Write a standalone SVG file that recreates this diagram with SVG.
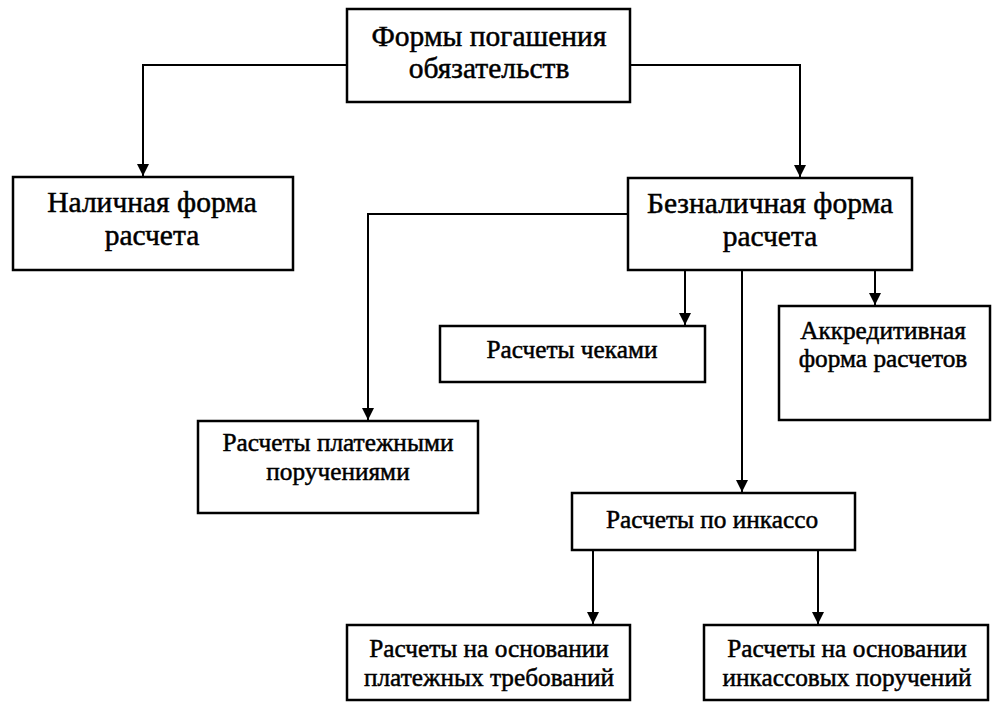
<svg xmlns="http://www.w3.org/2000/svg" width="1007" height="722" viewBox="0 0 1007 722">
<defs>
<marker id="ah" viewBox="0 0 10 10" refX="10" refY="5" markerWidth="12" markerHeight="12" markerUnits="userSpaceOnUse" orient="auto">
<path d="M0,0 L10,5 L0,10 z" fill="#000"/>
</marker>
<style>
.box{fill:#fff;stroke:#000;stroke-width:2.5}
.ln{fill:none;stroke:#000;stroke-width:2}
.t1{font-family:"Liberation Serif","Times New Roman",serif;font-size:29.5px;text-anchor:middle;fill:#000;stroke:#000;stroke-width:0.5}
.t2{font-family:"Liberation Serif","Times New Roman",serif;font-size:25.3px;text-anchor:middle;fill:#000;stroke:#000;stroke-width:0.5}
</style>
</defs>
<rect width="1007" height="722" fill="#fff"/>
<g id="connectors">
<path class="ln" d="M347,65 H143 V176" marker-end="url(#ah)"/>
<path class="ln" d="M630,65 H800 V177" marker-end="url(#ah)"/>
<path class="ln" d="M628,214 H368 V420" marker-end="url(#ah)"/>
<path class="ln" d="M685,270 V325" marker-end="url(#ah)"/>
<path class="ln" d="M742,270 V492" marker-end="url(#ah)"/>
<path class="ln" d="M875,270 V305" marker-end="url(#ah)"/>
<path class="ln" d="M593,550 V624" marker-end="url(#ah)"/>
<path class="ln" d="M818,550 V624" marker-end="url(#ah)"/>
</g>
<g id="root">
<rect class="box" x="347" y="9" width="283" height="93"/>
<text class="t1" x="489" y="46">Формы погашения</text>
<text class="t1" x="489" y="78">обязательств</text>
</g>
<g id="cash">
<rect class="box" x="13" y="177" width="280" height="93"/>
<text class="t1" x="152" y="212">Наличная форма</text>
<text class="t1" x="152" y="245">расчета</text>
</g>
<g id="noncash">
<rect class="box" x="628" y="178" width="284" height="92"/>
<text class="t1" x="770" y="213">Безналичная форма</text>
<text class="t1" x="770" y="246">расчета</text>
</g>
<g id="cheques">
<rect class="box" x="440" y="326" width="265" height="56"/>
<text class="t2" x="572" y="358">Расчеты чеками</text>
</g>
<g id="letter">
<rect class="box" x="779" y="306" width="211" height="114"/>
<text class="t2" x="883" y="339">Аккредитивная</text>
<text class="t2" x="883" y="367">форма расчетов</text>
</g>
<g id="payorders">
<rect class="box" x="198" y="421" width="280" height="92"/>
<text class="t2" x="338" y="451">Расчеты платежными</text>
<text class="t2" x="338" y="480">поручениями</text>
</g>
<g id="collection">
<rect class="box" x="572" y="493" width="283" height="57"/>
<text class="t2" x="712" y="528">Расчеты по инкассо</text>
</g>
<g id="demands">
<rect class="box" x="347" y="625" width="283" height="75"/>
<text class="t2" x="489" y="657">Расчеты на основании</text>
<text class="t2" x="489" y="686">платежных требований</text>
</g>
<g id="collorders">
<rect class="box" x="704" y="625" width="284" height="75"/>
<text class="t2" x="847" y="657">Расчеты на основании</text>
<text class="t2" x="847" y="686">инкассовых поручений</text>
</g>
</svg>
